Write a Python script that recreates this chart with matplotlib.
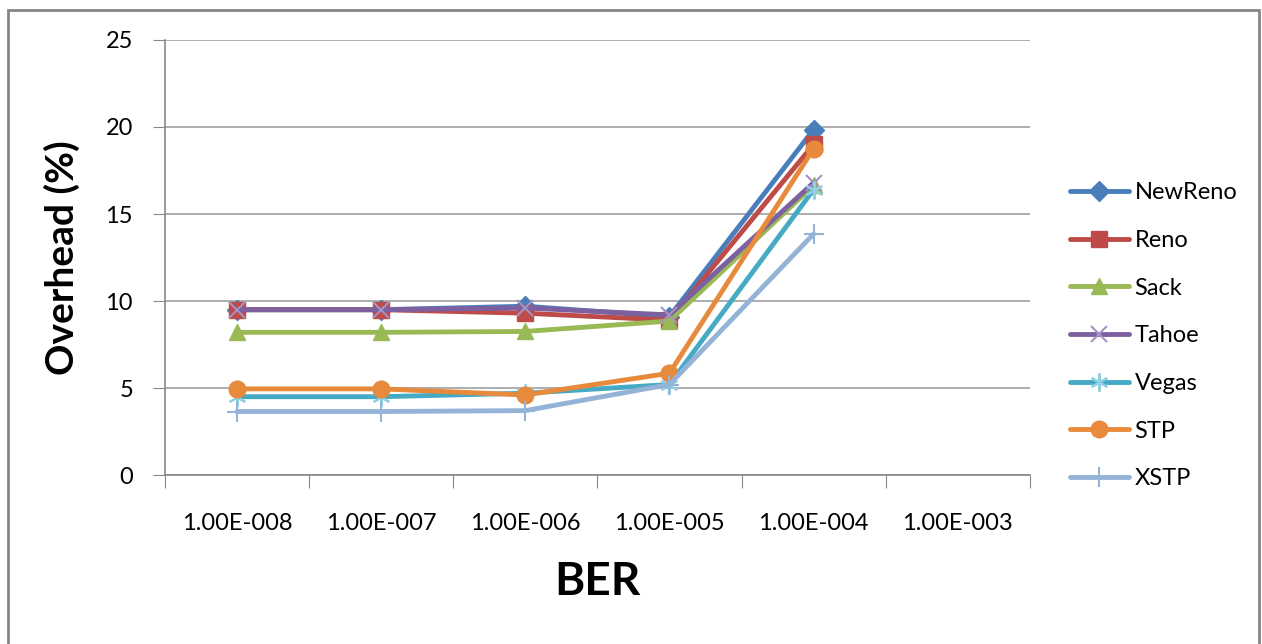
import matplotlib.pyplot as plt
from matplotlib.patches import Rectangle
import numpy as np

plt.rcParams['font.family'] = ['Lato', 'DejaVu Sans']

ber_labels = ['1.00E-008', '1.00E-007', '1.00E-006', '1.00E-005', '1.00E-004', '1.00E-003']

newreno = [9.5, 9.5, 9.7, 9.1, 19.85]
reno = [9.5, 9.5, 9.3, 8.9, 19.0]
sack = [8.2, 8.2, 8.25, 8.85, 16.65]
tahoe = [9.5, 9.5, 9.6, 9.2, 16.8]
vegas = [4.5, 4.5, 4.7, 5.2, 16.4]
stp = [4.95, 4.95, 4.6, 5.85, 18.75]
xstp = [3.65, 3.65, 3.7, 5.2, 13.85]

series = [
    ('NewReno', newreno, '#4A7EBB', 'D', 10, '#4A7EBB'),
    ('Reno', reno, '#BE4B48', 's', 11, '#BE4B48'),
    ('Sack', sack, '#98B954', '^', 12, '#98B954'),
    ('Tahoe', tahoe, '#7D60A0', 'x', 11, '#A393C4'),
    ('Vegas', vegas, '#46AAC5', (6, 2, 0), 13, '#8FD0E4'),
    ('STP', stp, '#E88A3C', 'o', 12, '#E88A3C'),
    ('XSTP', xstp, '#95B3D7', '+', 14, '#95B3D7'),
]

fig = plt.figure(figsize=(12.62, 6.44), dpi=100)
ax = fig.add_axes([0.1307, 0.2624, 0.816 - 0.1307, 0.9379 - 0.2624])

# outer chart border
fig.patches.append(Rectangle((8 / 1262, -0.02), (1259 - 8) / 1262, (644 - 10) / 644 + 0.02,
                             transform=fig.transFigure, fill=False,
                             edgecolor='#868686', linewidth=2))

x = np.arange(len(newreno)) + 0.5
for name, vals, color, marker, ms, mcolor in series:
    ax.plot(x, vals, color=color, linewidth=3.5, marker=marker, markersize=ms,
            markerfacecolor=mcolor, markeredgecolor=mcolor,
            markeredgewidth=1.5 if marker in ('x', '+') or isinstance(marker, tuple) else 1,
            label=name, solid_capstyle='round')

ax.set_xlim(0, len(ber_labels))
ax.set_ylim(0, 25)
ax.set_yticks(range(0, 26, 5))
ax.set_xticks(np.arange(len(ber_labels) + 1))
ax.set_xticklabels([])
ax.set_xticks(np.arange(len(ber_labels)) + 0.5, minor=True)
ax.set_xticklabels(ber_labels, minor=True)
ax.tick_params(axis='x', which='minor', length=0, pad=27, labelsize=17, colors='#000000')
ax.tick_params(axis='x', which='major', length=9, color='#888888', direction='out')
ax.tick_params(axis='y', length=9, color='#888888', pad=14, labelsize=17)

ax.grid(axis='y', color='#A0A0A0', linewidth=1.2)
ax.set_axisbelow(True)
for side in ('top', 'right'):
    ax.spines[side].set_visible(False)
for side in ('left', 'bottom'):
    ax.spines[side].set_color('#888888')
    ax.spines[side].set_linewidth(1.2)

ax.set_xlabel('BER', fontsize=33, fontweight='bold', labelpad=20)
ax.set_ylabel('Overhead (%)', fontsize=28, fontweight='bold', labelpad=18)

ax.legend(loc='center left', bbox_to_anchor=(1.035, 0.32), frameon=False,
          fontsize=17, labelspacing=1.13, handlelength=2.5, handletextpad=0.25,
          borderaxespad=0)

fig.savefig('out.png', dpi=100)
